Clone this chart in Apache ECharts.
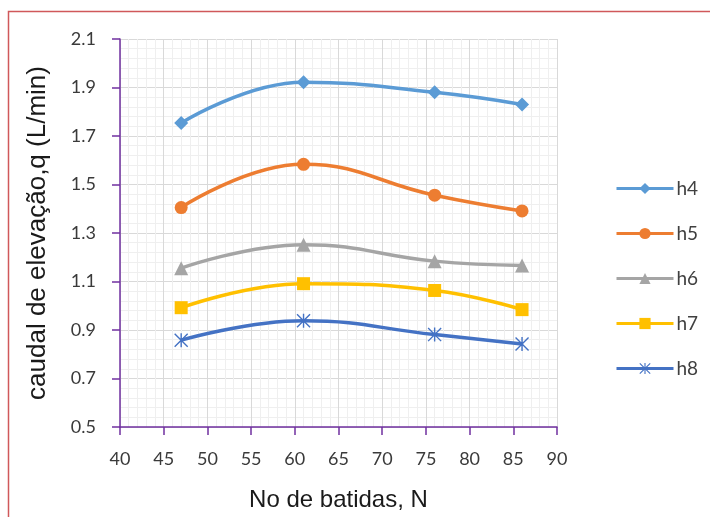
<!DOCTYPE html>
<html><head><meta charset="utf-8">
<script src="https://cdn.jsdelivr.net/npm/echarts@6/dist/echarts.min.js"></script>
<style>html,body{margin:0;padding:0;background:#fff}#c{width:710px;height:517px}</style>
</head><body><div id="c"></div>
<script>
const xValues = [47, 61, 76, 86];
const h4 = [1.754, 1.922, 1.880, 1.830];
const h5 = [1.405, 1.583, 1.456, 1.391];
const h6 = [1.155, 1.252, 1.184, 1.166];
const h7 = [0.992, 1.091, 1.063, 0.984];
const h8 = [0.858, 0.938, 0.881, 0.842];
const seriesNames = ['h4','h5','h6','h7','h8'];
const seriesData = [h4,h5,h6,h7,h8];
const colors = ['#5B9BD5','#ED7D31','#A5A5A5','#FFC000','#4472C4'];
const asterisk = 'path://M4.5,0L5.5,0L5.5,10L4.5,10Z M0,0.7L0.7,0L10,9.3L9.3,10Z M9.3,0L10,0.7L0.7,10L0,9.3Z';
const symbols = ['diamond','circle','triangle','rect',asterisk];
const symbolSizes = [14,13,14,13,14];

const chart = echarts.init(document.getElementById('c'), null, {renderer:'canvas'});
const axisPurple = '#7030A0';
const tickFont = {fontFamily:'Lato', fontSize:18, color:'#3a3a3a'};
chart.setOption({
  animation:false,
  color: colors,
  grid:{left:120, right:153, top:39, bottom:88, containLabel:false},
  graphic:[{type:'rect', shape:{x:8.5,y:11.5,width:800,height:600}, style:{fill:'none', stroke:'#d0585a', lineWidth:1.5}, z:100}],
  legend:{
    orient:'vertical', left:610, top:174, itemWidth:57, itemHeight:14, itemGap:26,
    lineStyle:{width:3},
    textStyle:{fontFamily:'Lato', fontSize:19, color:'#404040', padding:[0,0,0,-2]},
    data: seriesNames
  },
  xAxis:{
    type:'value', min:40, max:90, interval:5,
    name:'No de batidas, N', nameLocation:'middle', nameGap:61,
    nameTextStyle:{fontFamily:'Liberation Sans', fontSize:24, color:'#1a1a1a'},
    axisLine:{show:true, onZero:false, lineStyle:{color:axisPurple, width:1.5}},
    axisTick:{show:true, inside:false, length:8, lineStyle:{color:axisPurple, width:1.5}},
    axisLabel:Object.assign({margin:23}, tickFont),
    splitLine:{show:true, lineStyle:{color:'#d9d9d9', width:1}},
    minorTick:{show:false, splitNumber:5},
    minorSplitLine:{show:true, lineStyle:{color:'#efefef', width:1}}
  },
  yAxis:{
    type:'value', min:0.5, max:2.1, interval:0.2,
    name:'caudal de elevação,q (L/min)', nameLocation:'middle', nameGap:69,
    nameTextStyle:{fontFamily:'Liberation Sans', fontSize:26, color:'#1a1a1a'},
    axisLine:{show:true, onZero:false, lineStyle:{color:axisPurple, width:1.5}},
    axisTick:{show:true, inside:false, length:8, lineStyle:{color:axisPurple, width:1.5}},
    axisLabel:Object.assign({margin:24, formatter:v=>v.toFixed(1)}, tickFont),
    splitLine:{show:true, lineStyle:{color:'#d9d9d9', width:1}},
    minorTick:{show:false, splitNumber:5},
    minorSplitLine:{show:true, lineStyle:{color:'#efefef', width:1}}
  },
  series: seriesNames.map((n,i)=>({
    name:n, type:'line', smooth:0.45,
    data: xValues.map((x,j)=>[x, seriesData[i][j]]),
    symbol: symbols[i], symbolSize: symbolSizes[i],
    lineStyle:{width:3.5, color:colors[i]},
    itemStyle:{color:colors[i], borderWidth:0},
    emphasis:{disabled:true}
  }))
});
</script></body></html>
